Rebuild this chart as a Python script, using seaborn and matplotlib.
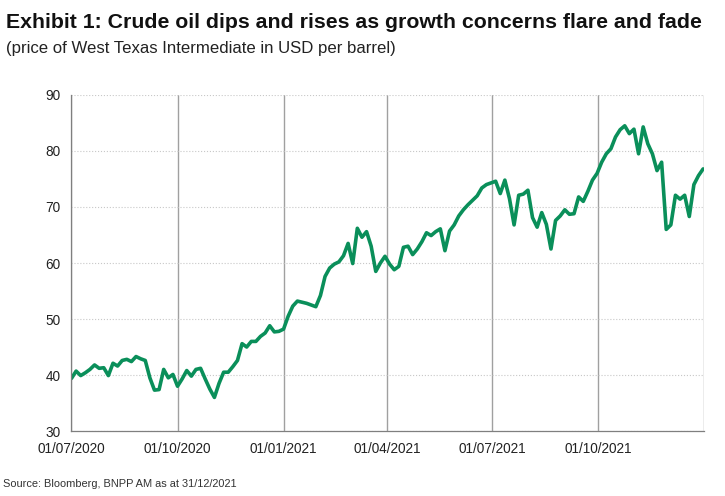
import pandas as pd
import matplotlib.pyplot as plt
import seaborn as sns

# -------------------------
# data (WTI, USD per barrel, read every 4 days from 01/07/2020)
# -------------------------
start_date = '2020-07-01'
wti = [
    39.4, 40.7, 39.9, 40.4, 41.0, 41.8, 41.2, 41.3, 39.9, 42.1,
    41.6, 42.6, 42.8, 42.4, 43.3, 42.9, 42.6, 39.5, 37.3, 37.4,
    41.0, 39.5, 40.1, 38.0, 39.3, 40.8, 39.8, 41.0, 41.2, 39.3,
    37.5, 36.0, 38.5, 40.5, 40.5, 41.5, 42.6, 45.6, 45.0, 46.0,
    46.0, 46.9, 47.5, 48.8, 47.7, 47.8, 48.2, 50.5, 52.3, 53.2,
    53.0, 52.8, 52.5, 52.2, 54.2, 57.6, 59.1, 59.8, 60.2, 61.3,
    63.5, 59.9, 66.2, 64.6, 65.6, 63.0, 58.5, 60.0, 61.2, 59.8,
    58.8, 59.4, 62.8, 63.0, 61.5, 62.5, 63.8, 65.4, 64.9, 65.6,
    66.1, 62.2, 65.7, 66.8, 68.4, 69.5, 70.4, 71.2, 72.0, 73.4,
    74.0, 74.3, 74.6, 72.4, 74.8, 71.5, 66.8, 72.1, 72.3, 73.0,
    68.1, 66.4, 69.0, 66.9, 62.5, 67.6, 68.4, 69.5, 68.7, 68.8,
    71.8, 71.0, 72.8, 74.8, 76.0, 78.0, 79.5, 80.4, 82.5, 83.8,
    84.5, 83.1, 83.9, 79.5, 84.3, 81.3, 79.5, 76.5, 78.0, 66.0,
    66.8, 72.1, 71.4, 72.1, 68.3, 74.0, 75.6, 76.8,
]
tick_dates = ['2020-07-01', '2020-10-01', '2021-01-01', '2021-04-01',
              '2021-07-01', '2021-10-01', '2022-01-01']
tick_labels = ['01/07/2020', '01/10/2020', '01/01/2021', '01/04/2021',
               '01/07/2021', '01/10/2021', '']
y_ticks = [30, 40, 50, 60, 70, 80, 90]

df = pd.DataFrame({
    'date': pd.date_range(start_date, periods=len(wti), freq='4D'),
    'wti': wti,
})

# -------------------------
# style
# -------------------------
sns.set_theme(style='white')
plt.rcParams['font.family'] = ['Liberation Sans Narrow', 'Liberation Sans', 'DejaVu Sans']

fig = plt.figure(figsize=(7.25, 4.96), dpi=100)
ax = fig.add_axes([0.0986, 0.131, 0.8728, 0.6775])

sns.lineplot(data=df, x='date', y='wti', color='#0a8f5a', linewidth=2.6, ax=ax)

ax.set_xlim(pd.Timestamp('2020-07-01'), pd.Timestamp('2022-01-01'))
ax.set_ylim(30, 90)
ax.set_xticks(pd.to_datetime(tick_dates))
ax.set_xticklabels(tick_labels)
ax.set_yticks(y_ticks)

ax.grid(axis='x', color='#a0a0a0', linewidth=1.0, linestyle='-')
ax.grid(axis='y', color='#c8c8c8', linewidth=0.8, linestyle=':')
ax.set_axisbelow(True)

for side in ['top', 'right']:
    ax.spines[side].set_visible(False)
for side in ['left', 'bottom']:
    ax.spines[side].set_color('#7f7f7f')
    ax.spines[side].set_linewidth(0.9)

ax.tick_params(axis='both', which='major', direction='out', length=4, width=0.8,
               color='#7f7f7f', labelsize=9.8, labelcolor='#222222', pad=4)
ax.set_xlabel('')
ax.set_ylabel('')

# -------------------------
# texts
# -------------------------
fig.text(0.008, 0.955, 'Exhibit 1: Crude oil dips and rises as growth concerns flare and fade',
         fontsize=15.3, fontweight='bold', color='#111111', va='center', ha='left')
fig.text(0.008, 0.903, '(price of West Texas Intermediate in USD per barrel)',
         fontsize=12.1, color='#222222', va='center', ha='left')
fig.text(0.004, 0.024, 'Source: Bloomberg, BNPP AM as at 31/12/2021',
         fontsize=7.9, color='#333333', va='center', ha='left')

plt.savefig('out.png', dpi=100)
